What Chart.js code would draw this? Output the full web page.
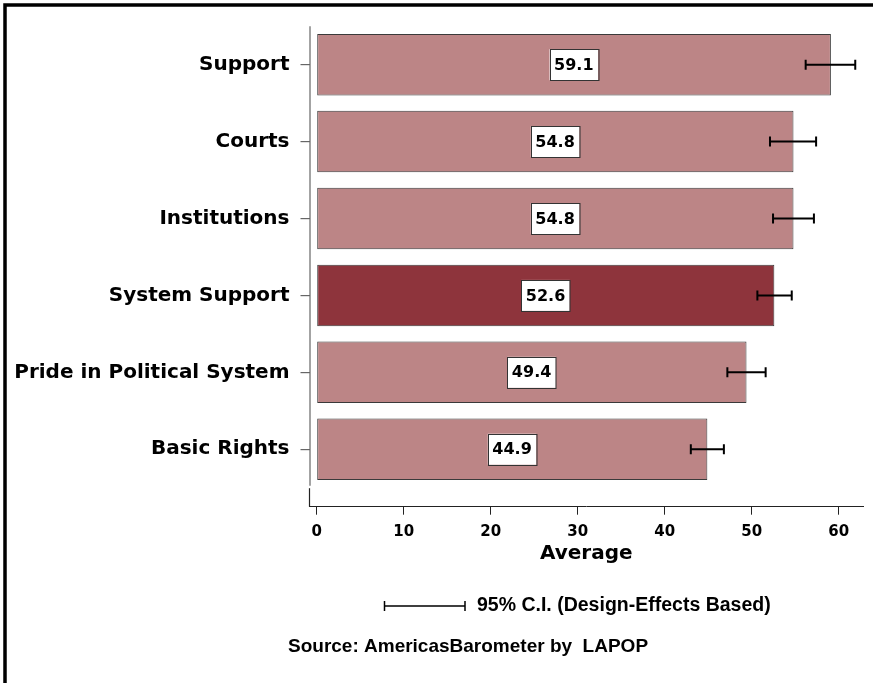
<!DOCTYPE html>
<html><head><meta charset="utf-8">
<script src="https://cdn.jsdelivr.net/npm/chart.js@4"></script>
<style>html,body{margin:0;padding:0;background:#fff}#wrap{width:873px;height:683px;position:relative}</style>
</head><body><div id="wrap"><canvas id="c" width="873" height="683"></canvas></div>
<script>
const categories = ["Support", "Courts", "Institutions", "System Support", "Pride in Political System", "Basic Rights"];
const averages = [59.1, 54.8, 54.8, 52.6, 49.4, 44.9];
const ciLow = [56.2, 52.1, 52.45, 50.65, 47.2, 43.0];
const ciHigh = [61.9, 57.4, 57.15, 54.6, 51.6, 46.8];
const xTicks = [0, 10, 20, 30, 40, 50, 60];
const highlight = "System Support";
const axisTitle = "Average";
const ciLegend = "95% C.I. (Design-Effects Based)";
const sourceText = "Source: AmericasBarometer by  LAPOP";

const LIGHT = "#bc8586";
const DARK = "#8e343c";
const LABEL_FONT = "DejaVu Sans";
const TEXT_FONT = "Liberation Sans";

const decor = {
  id: "decor",
  beforeDraw(chart) {
    const ctx = chart.ctx;
    ctx.save();
    ctx.fillStyle = "#fff";
    ctx.fillRect(0, 0, chart.width, chart.height);
    ctx.restore();
  },
  afterDatasetsDraw(chart) {
    const ctx = chart.ctx;
    const xs = chart.scales.x, ys = chart.scales.y;
    ctx.save();
    // error bars
    ctx.strokeStyle = "#000";
    ctx.lineWidth = 2;
    categories.forEach((c, i) => {
      const y = ys.getPixelForValue(i);
      const x1 = xs.getPixelForValue(ciLow[i]);
      const x2 = xs.getPixelForValue(ciHigh[i]);
      ctx.beginPath();
      ctx.moveTo(x1, y); ctx.lineTo(x2, y);
      ctx.moveTo(x1, y - 5); ctx.lineTo(x1, y + 5);
      ctx.moveTo(x2, y - 5); ctx.lineTo(x2, y + 5);
      ctx.stroke();
    });
    // value boxes
    ctx.font = "bold 16px '" + LABEL_FONT + "'";
    ctx.textAlign = "center";
    ctx.textBaseline = "middle";
    categories.forEach((c, i) => {
      const y = ys.getPixelForValue(i);
      const xm = (xs.getPixelForValue(0) + xs.getPixelForValue(averages[i])) / 2;
      const txt = averages[i].toFixed(1);
      const w = 48.5, h = 31;
      ctx.fillStyle = "#fff";
      ctx.fillRect(xm - w / 2, y - h / 2, w, h);
      ctx.strokeStyle = "#333";
      ctx.lineWidth = 1;
      ctx.strokeRect(Math.round(xm - w / 2) + 0.5, Math.round(y - h / 2) + 0.5, w, h);
      ctx.fillStyle = "#000";
      ctx.fillText(txt, xm, y + 1);
    });
    ctx.restore();
  },
  afterDraw(chart) {
    const ctx = chart.ctx;
    const ys = chart.scales.y;
    const a = chart.chartArea;
    ctx.save();
    // y axis line with small break near the bottom
    ctx.strokeStyle = "#666";
    ctx.lineWidth = 1.2;
    const yBreak = ys.getPixelForValue(categories.length - 0.5);
    ctx.beginPath();
    ctx.moveTo(a.left + 0.5, a.top);
    ctx.lineTo(a.left + 0.5, yBreak - 2);
    ctx.stroke();
    ctx.strokeStyle = "#222";
    ctx.beginPath();
    ctx.moveTo(a.left, yBreak + 0.5);
    ctx.lineTo(a.left, a.bottom);
    ctx.stroke();
    // frame
    ctx.strokeStyle = "#000";
    ctx.lineWidth = 3.5;
    ctx.beginPath();
    ctx.moveTo(5, 683); ctx.lineTo(5, 5); ctx.lineTo(873, 5);
    ctx.stroke();
    // CI legend
    ctx.lineWidth = 1.5;
    ctx.beginPath();
    ctx.moveTo(384.5, 606); ctx.lineTo(465, 606);
    ctx.moveTo(384.5, 601); ctx.lineTo(384.5, 611);
    ctx.moveTo(465, 601); ctx.lineTo(465, 611);
    ctx.stroke();
    ctx.fillStyle = "#000";
    ctx.font = "bold 19.5px '" + TEXT_FONT + "'";
    ctx.textAlign = "left";
    ctx.textBaseline = "middle";
    ctx.fillText(ciLegend, 477, 606);
    ctx.font = "bold 19px '" + TEXT_FONT + "'";
    ctx.fillText(sourceText, 288, 647);
    ctx.restore();
  }
};

new Chart(document.getElementById("c"), {
  type: "bar",
  data: {
    datasets: [{
      data: averages.map((v, i) => ({ x: v, y: i })),
      backgroundColor: categories.map(c => c === highlight ? DARK : LIGHT),
      borderColor: "#3a3a3a",
      borderWidth: 1,
      borderSkipped: false,
      barPercentage: 0.8,
      categoryPercentage: 1
    }]
  },
  options: {
    indexAxis: "y",
    responsive: false,
    animation: false,
    devicePixelRatio: 1,
    layout: { padding: { top: 26.2, right: 10, left: 0, bottom: 0 } },
    plugins: { legend: { display: false }, tooltip: { enabled: false } },
    scales: {
      x: {
        type: "linear",
        min: -0.8276,
        max: 62.79,
        afterBuildTicks: a => { a.ticks = xTicks.map(v => ({ value: v })); },
        grid: { drawOnChartArea: false, tickLength: 8, color: "#222", lineWidth: 1 },
        border: { color: "#222", width: 1 },
        ticks: { font: { family: LABEL_FONT, weight: "bold", size: 15 }, color: "#000", padding: 8 },
        title: { display: true, text: axisTitle, color: "#000",
                 font: { family: LABEL_FONT, weight: "bold", size: 20 }, padding: { top: 0, bottom: 117 } },
        afterFit: s => { s.height = 683 - 506.7; }
      },
      y: {
        type: "linear",
        reverse: true,
        offset: false,
        min: -0.5,
        max: 5.747,
        afterBuildTicks: a => { a.ticks = categories.map((c, i) => ({ value: i })); },
        grid: { drawOnChartArea: false, offset: false, tickLength: 9, color: "#666", lineWidth: 1.2 },
        border: { display: false },
        ticks: { callback: v => categories[v], font: { family: LABEL_FONT, weight: "bold", size: 20 }, color: "#000", padding: 11 },
        afterFit: s => { s.width = 309.5; }
      }
    }
  },
  plugins: [decor]
});
</script>
</body></html>
